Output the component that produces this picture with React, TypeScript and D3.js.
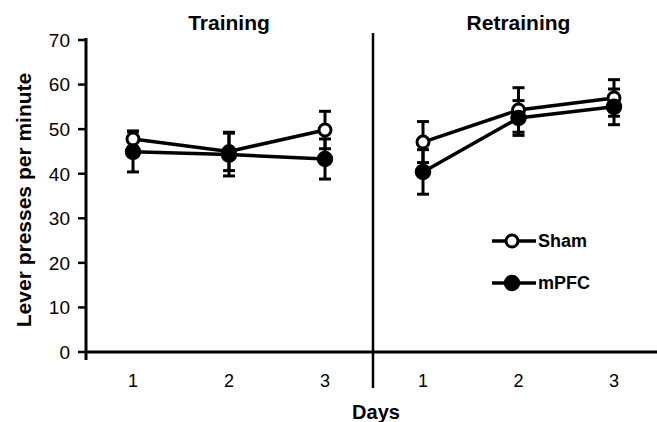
import React from "react";
import * as d3 from "d3";

const phases = ["Training", "Retraining"];
const days = ["1", "2", "3"];
const yTicks = [0, 10, 20, 30, 40, 50, 60, 70];

// mean and SEM per phase, per day
const shamMean = [[47.8, 45.0, 49.8], [47.1, 54.3, 57.0]];
const shamErr = [[1.8, 4.3, 4.2], [4.6, 5.0, 4.1]];
const mpfcMean = [[44.9, 44.3, 43.3], [40.4, 52.5, 55.0]];
const mpfcErr = [[4.5, 4.8, 4.5], [5.0, 3.9, 4.0]];

const width = 657;
const height = 422;
const font = "'Liberation Sans', Arial, sans-serif";

export default function App() {
  const left = 86;
  const top = 40;
  const bottom = 352;
  const divider = 373;

  const y = d3.scaleLinear().domain([0, 70]).range([bottom, top]);
  const xPhase = [
    d3.scalePoint().domain(days).range([133, 325]),
    d3.scalePoint().domain(days).range([423, 614]),
  ];

  const line = d3.line<[number, number]>().x(d => d[0]).y(d => d[1]);

  const series = [
    { name: "Sham", mean: shamMean, err: shamErr, fill: "#fff", r: 6, sw: 3 },
    { name: "mPFC", mean: mpfcMean, err: mpfcErr, fill: "#000", r: 7.5, sw: 1.5 },
  ];

  const cap = 6;

  return (
    <svg width={width} height={height} style={{ position: "absolute", left: 0, top: 0 }}>
      <rect width={width} height={height} fill="#fff" />
      {/* axes */}
      <line x1={left} x2={left} y1={top - 2} y2={bottom + 8} stroke="#000" strokeWidth={3} />
      <line x1={left} x2={width} y1={bottom} y2={bottom} stroke="#000" strokeWidth={3} />
      <line x1={divider} x2={divider} y1={33} y2={388} stroke="#000" strokeWidth={2.5} />
      {yTicks.map(t => (
        <g key={t}>
          <line x1={left - 8} x2={left} y1={y(t)} y2={y(t)} stroke="#000" strokeWidth={2.5} />
          <text x={left - 16} y={y(t)} dy="0.36em" textAnchor="end" fontFamily={font} fontSize={19}>
            {t}
          </text>
        </g>
      ))}
      {phases.map((p, pi) => (
        <g key={p}>
          {days.map(d => (
            <text key={d} x={xPhase[pi](d)} y={387} textAnchor="middle" fontFamily={font} fontSize={18}>
              {d}
            </text>
          ))}
          <text
            x={(xPhase[pi]("1")! + xPhase[pi]("3")!) / 2}
            y={30}
            textAnchor="middle"
            fontFamily={font}
            fontSize={21}
            fontWeight="bold"
          >
            {p}
          </text>
        </g>
      ))}
      <text
        transform={`translate(31,${(top + bottom) / 2 + 4}) rotate(-90)`}
        textAnchor="middle"
        fontFamily={font}
        fontSize={21}
        fontWeight="bold"
      >
        Lever presses per minute
      </text>
      <text x={376} y={419} textAnchor="middle" fontFamily={font} fontSize={20} fontWeight="bold">
        Days
      </text>
      {/* series: lines first, then error bars, then markers */}
      {series.map(s =>
        phases.map((p, pi) => {
          const pts: [number, number][] = days.map((d, i) => [xPhase[pi](d)!, y(s.mean[pi][i])]);
          return (
            <path key={s.name + p} d={line(pts)!} fill="none" stroke="#000" strokeWidth={3.5} />
          );
        })
      )}
      {series.map(s =>
        phases.map((p, pi) =>
          days.map((d, i) => {
            const cx = xPhase[pi](d)!;
            const hi = y(s.mean[pi][i] + s.err[pi][i]);
            const lo = y(s.mean[pi][i] - s.err[pi][i]);
            return (
              <g key={s.name + p + d} stroke="#000" strokeWidth={3}>
                <line x1={cx} x2={cx} y1={hi} y2={lo} />
                <line x1={cx - cap} x2={cx + cap} y1={hi} y2={hi} />
                <line x1={cx - cap} x2={cx + cap} y1={lo} y2={lo} />
              </g>
            );
          })
        )
      )}
      {series.map(s =>
        phases.map((p, pi) =>
          days.map((d, i) => (
            <circle
              key={s.name + p + d}
              cx={xPhase[pi](d)!}
              cy={y(s.mean[pi][i])}
              r={s.r}
              fill={s.fill}
              stroke="#000"
              strokeWidth={s.sw}
            />
          ))
        )
      )}
      {/* legend */}
      {series.map((s, i) => {
        const ly = 241 + i * 42;
        return (
          <g key={s.name}>
            <line x1={492} x2={536} y1={ly} y2={ly} stroke="#000" strokeWidth={3.5} />
            <circle cx={512} cy={ly} r={s.r} fill={s.fill} stroke="#000" strokeWidth={s.sw} />
            <text x={538} y={ly} dy="0.36em" fontFamily={font} fontSize={18} fontWeight="bold">
              {s.name}
            </text>
          </g>
        );
      })}
    </svg>
  );
}
